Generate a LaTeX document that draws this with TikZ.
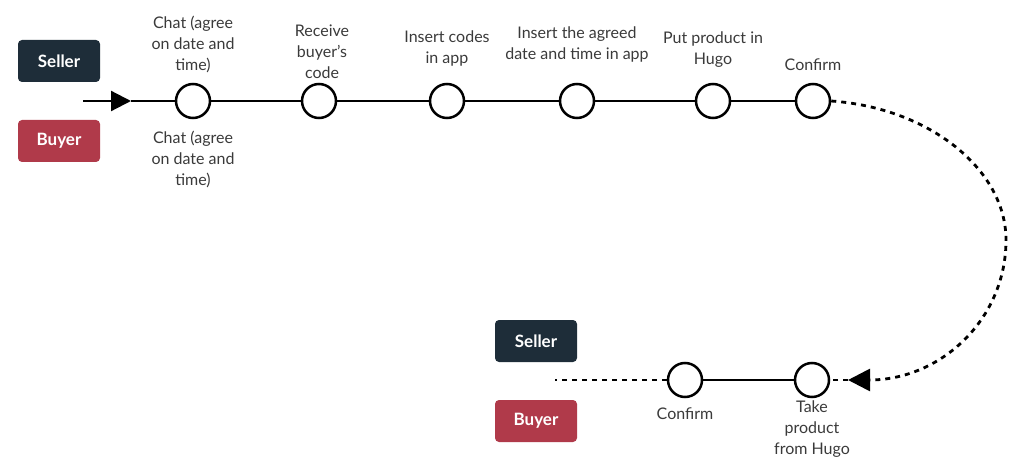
\documentclass[tikz,border=0pt]{standalone}
\usepackage{fontspec}
\setmainfont{Lato}
\usetikzlibrary{arrows.meta}

\definecolor{sellerc}{HTML}{1E2D39}
\definecolor{buyerc}{HTML}{B03A4A}
\definecolor{labelc}{HTML}{3A3A3A}

\tikzset{
  role/.style={rounded corners=4pt, minimum width=82pt, minimum height=42pt,
    text=white, font=\fontsize{17}{20}\selectfont\bfseries},
  stop/.style={circle, draw=black, line width=2.5pt, fill=white, minimum size=34pt, inner sep=0pt},
  steplabel/.style={align=center, text=labelc, font=\fontsize{16}{21}\selectfont, inner sep=0pt},
  track/.style={line width=2.2pt},
  hop/.style={line width=2.8pt, dash pattern=on 5pt off 5pt},
}

\begin{document}
\begin{tikzpicture}[x=1pt, y=-1pt]
    \useasboundingbox (0,0) rectangle (1011,465);
    % --- role boxes, first row ---
    \node[role, fill=sellerc] (seller1) at (59,61)  {Seller};
    \node[role, fill=buyerc]  (buyer1)  at (59,141) {Buyer};
    % --- steps, first row ---
    \foreach \x [count=\i] in {193,319,447,577,713,813} {
      \node[stop] (s\i) at (\x,101) {};
    }
    \coordinate (start) at (83,101);
    \coordinate (tipA) at (131,101);
    \draw[track, -{Triangle[length=20pt,width=20pt]}] (start) -- (tipA);
    \draw[track] (tipA) -- (s1);
    \foreach \i [evaluate=\i as \j using int(\i+1)] in {1,...,5} {
      \draw[track] (s\i) -- (s\j);
    }
    % --- texts above and below ---
    \node[steplabel, anchor=south] at (193,73) {Chat (agree\\on date and\\time)};
    \node[steplabel, anchor=south] at (322,79) {Receive\\buyer's\\code};
    \node[steplabel, anchor=south] at (447,66) {Insert codes\\in app};
    \node[steplabel, anchor=south] at (577,62) {Insert the agreed\\date and time in app};
    \node[steplabel, anchor=south] at (713,68) {Put product in\\Hugo};
    \node[steplabel, anchor=south] at (813,71) {Confirm};
    \node[steplabel, anchor=north] at (193,131) {Chat (agree\\on date and\\time)};
    % --- loop back to the second row ---
    \node[role, fill=sellerc] (seller2) at (536,341) {Seller};
    \node[role, fill=buyerc]  (buyer2)  at (536,421) {Buyer};
    \node[stop] (s7) at (685,380) {};
    \node[stop] (s8) at (812,380) {};
    \coordinate (tipB) at (848,380);
    \coordinate (tail) at (555,380);
    \draw[hop, -{Triangle[length=22pt,width=22pt]}] (s6.east)
      .. controls (930,108) and (1006,170) .. (1006,240)
      .. controls (1006,320) and (940,380) .. (tipB);
    \draw[hop] (tipB) -- (s8);
    \draw[track] (s8) -- (s7);
    \draw[hop] (s7) -- (tail);
    \node[steplabel, anchor=north] at (685,408) {Confirm};
    \node[steplabel, anchor=north] at (812,401) {Take\\product\\from Hugo};
\end{tikzpicture}
\end{document}
